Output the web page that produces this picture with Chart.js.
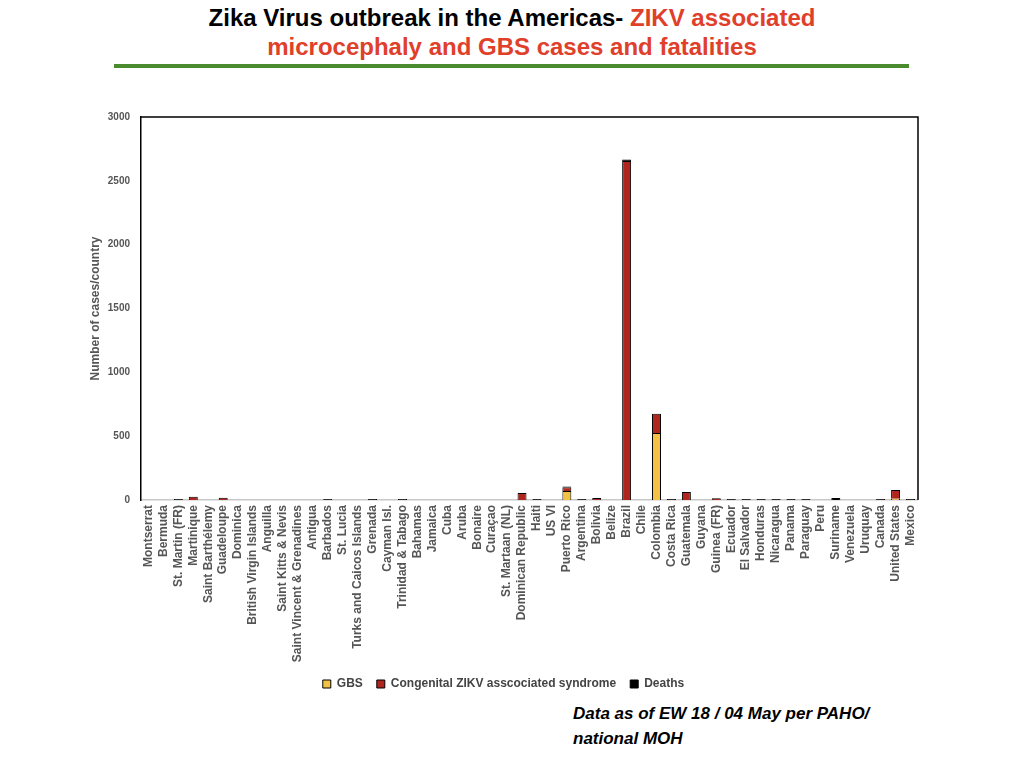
<!DOCTYPE html>
<html>
<head>
<meta charset="utf-8">
<script src="https://cdn.jsdelivr.net/npm/chart.js@4"></script>
<style>
  body { margin: 0; width: 1024px; height: 768px; background: #fff; position: relative; overflow: hidden; font-family: "Liberation Sans", Arial, sans-serif; }
  .title { position: absolute; left: 0; width: 1024px; top: 3px; text-align: center; font-weight: bold; font-size: 24px; line-height: 29px; color: #000; }
  .title .red { color: #e0402a; }
  .rule { position: absolute; left: 114px; top: 64px; width: 795px; height: 4px; background: #4a8b2f; }
  .note { position: absolute; left: 573px; top: 701px; font-weight: bold; font-style: italic; font-size: 17px; line-height: 25px; color: #000; }
  #wrap { position: absolute; left: 80px; top: 100px; width: 850px; height: 600px; }
</style>
</head>
<body>
<div class="title">Zika Virus outbreak in the Americas- <span class="red">ZIKV associated</span><br><span class="red">microcephaly and GBS cases and fatalities</span></div>
<div class="rule"></div>
<div id="wrap"><canvas id="myChart"></canvas></div>
<div class="note">Data as of EW 18 / 04 May per PAHO/<br>national MOH</div>
<script>
const countries = ["Montserrat", "Bermuda", "St. Martin (FR)", "Martinique", "Saint Barthélemy", "Guadeloupe", "Dominica",
    "British Virgin Islands", "Anguilla", "Saint Kitts & Nevis", "Saint Vincent & Grenadines", "Antigua", "Barbados",
    "St. Lucia", "Turks and Caicos Islands", "Grenada", "Cayman Isl.", "Trinidad & Tabago", "Bahamas", "Jamaica", "Cuba",
    "Aruba", "Bonaire", "Curaçao", "St. Martaan (NL)", "Dominican Republic", "Haiti", "US VI", "Puerto Rico", "Argentina",
    "Bolivia", "Belize", "Brazil", "Chile", "Colombia", "Costa Rica", "Guatemala", "Guyana", "Guinea (FR)", "Ecuador",
    "El Salvador", "Honduras", "Nicaragua", "Panama", "Paraguay", "Peru", "Suriname", "Venezuela", "Uruquay", "Canada",
    "United States", "Mexico"];

// same order as countries
const gbs =  [0, 0, 0, 0, 0, 0, 0, 0, 0, 0, 0, 0, 0, 0, 0, 0, 0, 0, 0, 0, 0, 0, 0, 0, 0, 0, 0, 0, 70, 0, 0, 0, 0, 0, 525, 0, 0, 0, 0, 0, 0, 0, 0, 0, 0, 0, 0, 0, 0, 0, 10, 0];
const congenital = [0, 0, 0, 26, 0, 18, 0, 0, 0, 0, 0, 0, 0, 0, 0, 0, 0, 0, 0, 0, 0, 0, 0, 0, 0, 55, 0, 0, 30, 0, 16, 0, 2655, 0, 150, 0, 62, 0, 14, 0, 0, 0, 0, 0, 0, 0, 0, 0, 0, 0, 68, 0];
const deaths = [0, 0, 8, 0, 0, 0, 0, 0, 0, 0, 0, 0, 8, 0, 0, 8, 0, 8, 0, 0, 0, 0, 0, 0, 0, 0, 8, 0, 5, 8, 0, 0, 12, 0, 0, 8, 0, 0, 0, 8, 8, 8, 8, 8, 8, 0, 16, 0, 0, 8, 0, 8];
const yTicks = [0, 500, 1000, 1500, 2000, 2500, 3000];

// top and right edge of the plot box
const frameLines = {
    id: "frameLines",
    afterDraw(chart) {
        let ctx = chart.ctx;
        let a = chart.chartArea;
        ctx.save();
        ctx.strokeStyle = "#000";
        ctx.lineWidth = 1.5;
        ctx.beginPath();
        ctx.moveTo(a.left, a.top);
        ctx.lineTo(a.right, a.top);
        ctx.lineTo(a.right, a.bottom);
        ctx.stroke();
        ctx.restore();
    }
};

const fam = "'Liberation Sans', Arial, sans-serif";

let canvas = document.getElementById("myChart").getContext("2d");
let myChart = new Chart(canvas, {
    type: "bar",
    data: {
        labels: countries,
        datasets: [
            { label: "GBS", data: gbs, backgroundColor: "#f2c244", borderColor: "#000", borderWidth: 1 },
            { label: "Congenital ZIKV asscociated syndrome", data: congenital, backgroundColor: "#b0261e", borderColor: "#000", borderWidth: 1 },
            { label: "Deaths", data: deaths, backgroundColor: "#000", borderColor: "#000", borderWidth: 1 }
        ]
    },
    options: {
        responsive: true,
        maintainAspectRatio: false,
        animation: false,
        layout: { padding: { left: 5, right: 8, top: 17, bottom: 0 } },
        datasets: { bar: { barPercentage: 0.6, categoryPercentage: 1 } },
        plugins: {
            tooltip: { enabled: false },
            legend: {
                position: "bottom",
                labels: {
                    boxWidth: 8, boxHeight: 8, padding: 14,
                    color: "#444",
                    font: { family: fam, size: 12, weight: "bold" }
                }
            }
        },
        scales: {
            x: {
                stacked: true,
                grid: { display: false, drawTicks: false },
                border: { color: "#c8c8c8", width: 1.5 },
                ticks: { autoSkip: false, minRotation: 90, maxRotation: 90, color: "#555", font: { family: fam, size: 12, weight: "bold" }, padding: 5 },
                afterFit(scale) { scale.height = 164; }
            },
            y: {
                stacked: true,
                min: 0, max: 3000,
                afterBuildTicks(scale) { scale.ticks = yTicks.map(v => ({ value: v })); },
                grid: { display: false, drawTicks: false },
                border: { color: "#000", width: 1.5 },
                ticks: {
                    color: "#555", padding: 11,
                    font: { family: fam, size: 10, weight: "bold" },
                    callback: v => String(v)
                },
                title: {
                    display: true, text: "Number of cases/country", color: "#555",
                    font: { family: fam, size: 12, weight: "bold" },
                    padding: { top: 3, bottom: 0 }
                },
                afterFit(scale) { scale.width = 56; }
            }
        }
    },
    plugins: [frameLines]
});
</script>
</body>
</html>
